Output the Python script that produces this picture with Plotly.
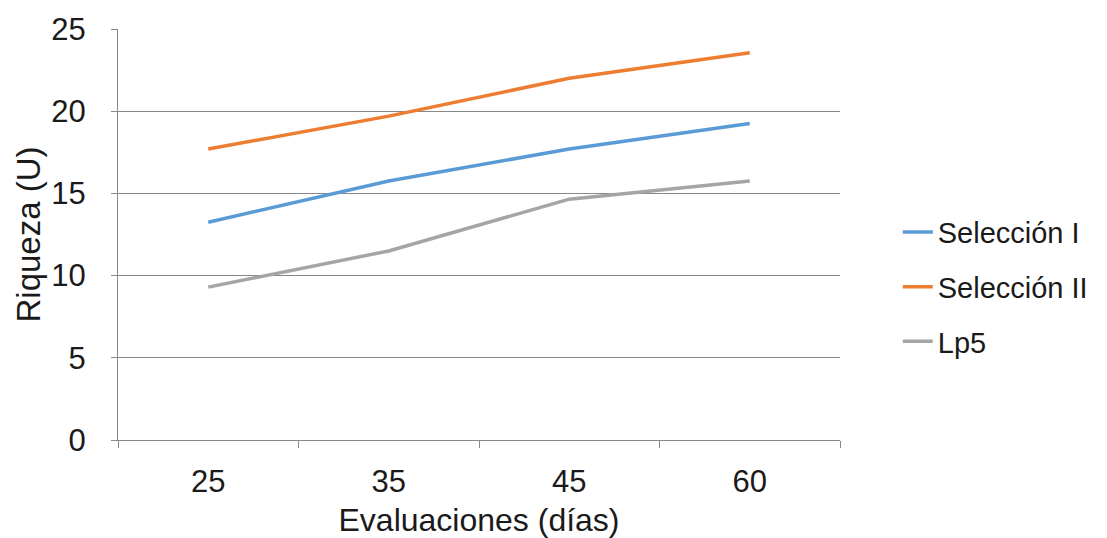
import plotly.graph_objects as go

categories = ["25", "35", "45", "60"]
seleccion_i = [13.25, 15.75, 17.7, 19.25]
seleccion_ii = [17.7, 19.7, 22.0, 23.55]
lp5 = [9.3, 11.5, 14.65, 15.75]

series = [
    ("Selección I", seleccion_i, "#5B9BD5"),
    ("Selección II", seleccion_ii, "#ED7D31"),
    ("Lp5", lp5, "#A5A5A5"),
]

FONT = "Liberation Sans, Arial, sans-serif"
fig = go.Figure()
for i, (name, vals, col) in enumerate(series):
    fig.add_trace(go.Scatter(
        x=categories, y=vals, name=name, mode="lines",
        line=dict(color=col, width=3.5), legendgroup=f"g{i}",
    ))

fig.update_layout(
    width=1107, height=538,
    margin=dict(l=118, r=267, t=29, b=98, autoexpand=False),
    paper_bgcolor="white", plot_bgcolor="white",
    font=dict(family=FONT, size=31, color="#1a1a1a"),
    showlegend=True,
    legend=dict(x=1.08, y=0.372, xanchor="left", yanchor="middle",
                font=dict(size=29, family=FONT, color="#1a1a1a"),
                tracegroupgap=14, bgcolor="rgba(0,0,0,0)"),
)
fig.update_xaxes(
    type="category", range=[-0.5, 3.5],
    showline=True, linecolor="#888888", linewidth=1,
    ticks="outside", tickson="boundaries", ticklen=7, tickcolor="#888888",
    showgrid=False, ticklabelstandoff=14, automargin=False,
    title=dict(text="Evaluaciones (días)", standoff=12, font=dict(size=32)),
    tickfont=dict(size=31),
)
fig.update_yaxes(
    range=[0, 25], dtick=5,
    showline=True, linecolor="#888888", linewidth=1,
    ticks="outside", ticklen=6, tickcolor="#888888",
    showgrid=True, gridcolor="#888888", gridwidth=1,
    zeroline=False, ticklabelstandoff=19, automargin=False,
    title=dict(text="Riqueza (U)", standoff=0, font=dict(size=33)),
    tickfont=dict(size=31),
)

fig.write_html("out.html")
